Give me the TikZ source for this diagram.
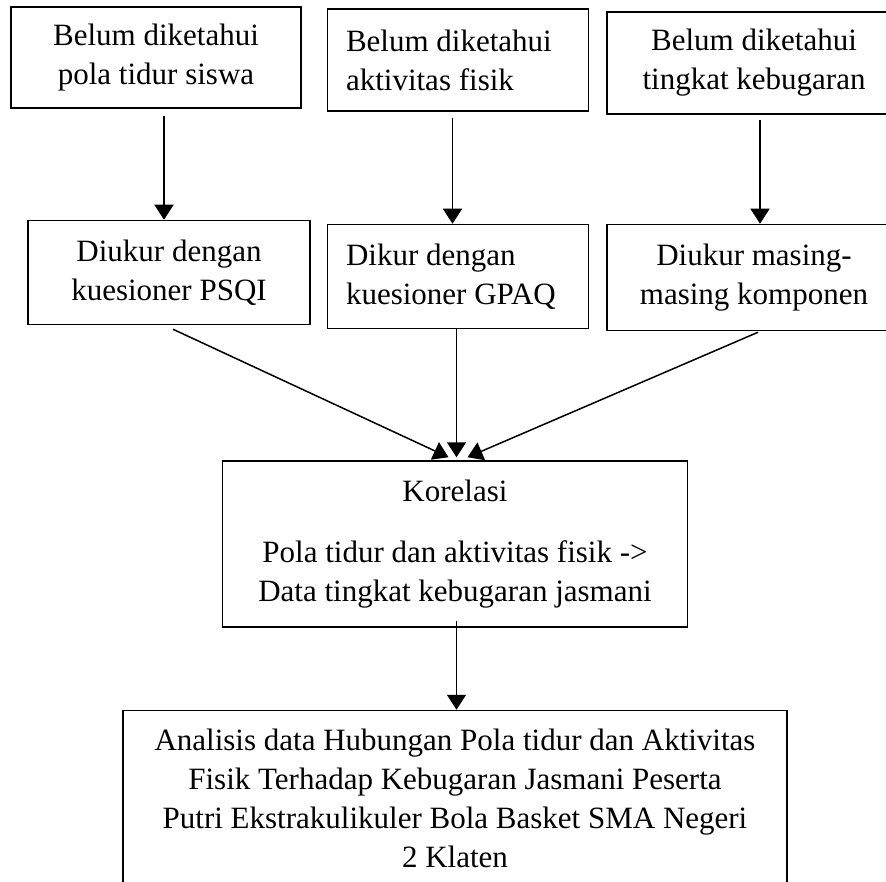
\documentclass[tikz,border=0pt]{standalone}
\usepackage{fontspec}
\setmainfont{Liberation Serif}
\usepackage{tikz}
\usetikzlibrary{arrows.meta, positioning}

\begin{document}
\begin{tikzpicture}[
    x=0.5pt, y=-0.5pt,
    box/.style={rectangle, draw, line width=0.75pt, align=center, inner sep=0pt,
        font=\fontsize{15.5pt}{19.5pt}\selectfont},
    leftbox/.style={box, align=flush left, text width=112pt, inner xsep=9.25pt},
    arrow/.style={-{Triangle[length=7.5pt, width=9.5pt]}, line width=0.75pt}
]
    \useasboundingbox (0,0) rectangle (886,881);
    \clip (0,0) rectangle (886,881);

    % Row 1: belum diketahui
    \node[box, minimum width=145pt, minimum height=50.5pt] (tidur) at (156,57.5)
        {Belum diketahui\\pola tidur siswa};
    \node[leftbox, minimum height=51pt, right=12.5pt of tidur, yshift=-1.25pt] (fisik)
        {Belum diketahui\\aktivitas fisik};
    \node[box, minimum width=147pt, minimum height=51pt, right=8.5pt of fisik, yshift=-1.5pt] (bugar)
        {Belum diketahui\\tingkat kebugaran};

    % Row 2: alat ukur
    \node[box, minimum width=141pt, minimum height=52pt, below=55.5pt of tidur, xshift=6.5pt] (psqi)
        {Diukur dengan\\kuesioner PSQI};
    \node[leftbox, minimum height=52pt, below=56pt of fisik] (gpaq)
        {Dikur dengan\\kuesioner GPAQ};
    \node[box, minimum width=147pt, minimum height=53pt, below=54.5pt of bugar] (komp)
        {Diukur masing-\\masing komponen};

    % Row 3: korelasi
    \node[box, minimum width=232.5pt, minimum height=83pt, below=65.5pt of gpaq, xshift=-1.5pt] (korelasi)
        {Korelasi\\[11pt]Pola tidur dan aktivitas fisik ->\\Data tingkat kebugaran jasmani};

    % Row 4: analisis
    \node[box, minimum width=332pt, inner ysep=9pt, below=41pt of korelasi] (analisis)
        {Analisis data Hubungan Pola tidur dan Aktivitas\\Fisik Terhadap Kebugaran Jasmani Peserta\\Putri Ekstrakulikuler Bola Basket SMA Negeri\\2 Klaten};

    % Arrows
    \draw[arrow] ([xshift=4pt, yshift=-3.5pt]tidur.south) -- ([xshift=-2.5pt]psqi.north);
    \draw[arrow] ([xshift=-2.75pt, yshift=-3pt]fisik.south) -- ([xshift=-2.75pt]gpaq.north);
    \draw[arrow] ([xshift=3pt, yshift=-2.5pt]bugar.south) -- ([xshift=3pt]komp.north);
    \draw[arrow] ([xshift=2pt, yshift=-2pt]psqi.south) -- ([xshift=-3.25pt, yshift=1.5pt]korelasi.north);
    \draw[arrow] ([xshift=-0.75pt]gpaq.south) -- ([xshift=0.75pt, yshift=1.5pt]korelasi.north);
    \draw[arrow] ([xshift=2pt, yshift=-0.5pt]komp.south) -- ([xshift=6.25pt, yshift=1.5pt]korelasi.north);
    \draw[arrow] ([xshift=0.75pt, yshift=3.5pt]korelasi.south) -- ([xshift=0.75pt]analisis.north);

\end{tikzpicture}
\end{document}
